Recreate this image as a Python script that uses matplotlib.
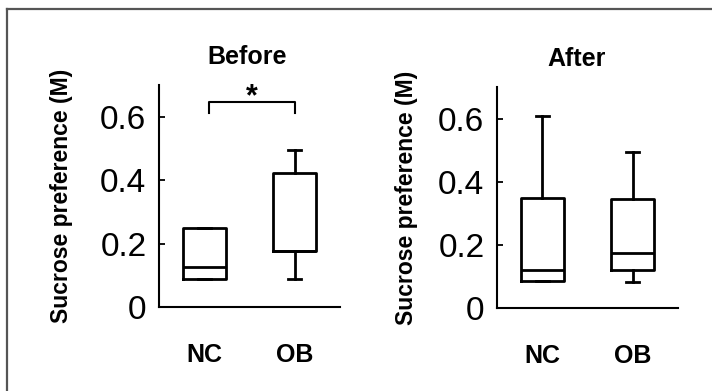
import matplotlib
matplotlib.use("Agg")
import matplotlib.pyplot as plt
from matplotlib.lines import Line2D

# box statistics (sucrose preference, M)
groups = ["NC", "OB"]
panels = ["Before", "After"]
whislo = {"Before": [0.088, 0.088], "After": [0.085, 0.082]}
q1 = {"Before": [0.088, 0.177], "After": [0.085, 0.120]}
med = {"Before": [0.126, 0.177], "After": [0.120, 0.173]}
q3 = {"Before": [0.250, 0.423], "After": [0.349, 0.346]}
whishi = {"Before": [0.250, 0.496], "After": [0.607, 0.494]}
yticks = [0, 0.2, 0.4, 0.6]
yticklabels = ["0", "0.2", "0.4", "0.6"]
sig_pair = (1.05, 2.0)   # bracket ends in the Before panel
sig_y = (0.612, 0.647)

plt.rcParams["font.family"] = ["Liberation Sans", "DejaVu Sans"]

fig = plt.figure(figsize=(7.12, 3.91), dpi=100)
axes = [fig.add_axes([0.2233, 0.2148, 0.2542, 0.5678]),
        fig.add_axes([0.6980, 0.2122, 0.2542, 0.5653])]
title_x = [0.486, 0.442]
label_x = [-0.475, -0.436]

for ax, name, tx, lx in zip(axes, panels, title_x, label_x):
    stats = []
    for i, g in enumerate(groups):
        stats.append(dict(label=g, whislo=whislo[name][i], q1=q1[name][i],
                          med=med[name][i], q3=q3[name][i],
                          whishi=whishi[name][i], fliers=[]))
    lw = 2.0
    ax.bxp(stats, positions=[1, 2], widths=0.48, capwidths=0.145,
           showfliers=False,
           boxprops=dict(color="black", linewidth=lw),
           medianprops=dict(color="black", linewidth=lw),
           whiskerprops=dict(color="black", linewidth=lw),
           capprops=dict(color="black", linewidth=lw))
    ax.set_xlim(0.5, 2.5)
    ax.set_ylim(0, 0.7)
    ax.set_yticks(yticks)
    ax.set_yticklabels(yticklabels, fontsize=24)
    ax.set_xticks([1, 2])
    ax.set_xticklabels(groups, fontsize=18, fontweight="bold")
    ax.tick_params(axis="x", length=0, pad=26)
    ax.tick_params(axis="y", direction="in", length=4, width=1.3, pad=9)
    for s in ("top", "right"):
        ax.spines[s].set_visible(False)
    for s in ("left", "bottom"):
        ax.spines[s].set_linewidth(1.5)
    ax.set_title(name, fontsize=18, fontweight="bold", x=tx, pad=15)
    ax.set_ylabel("Sucrose preference (M)", fontsize=16.5, fontweight="bold")
    ax.yaxis.set_label_coords(lx, 0.5)

# significance bracket on the Before panel
ax = axes[0]
ax.plot([sig_pair[0], sig_pair[0], sig_pair[1], sig_pair[1]],
        [sig_y[0], sig_y[1], sig_y[1], sig_y[0]], color="black", lw=1.5,
        clip_on=False)
ax.text(sum(sig_pair) / 2, 0.635, "*", ha="center", va="baseline",
        fontsize=22, fontweight="bold", clip_on=False)

# partial frame (top and left edges) of the original figure
fig.add_artist(Line2D([7 / 712, 1], [1 - 9 / 391] * 2, color="#555555", lw=1.6,
                      transform=fig.transFigure))
fig.add_artist(Line2D([7 / 712] * 2, [0, 1 - 9 / 391], color="#555555", lw=1.6,
                      transform=fig.transFigure))

fig.savefig("out.png", dpi=100)
